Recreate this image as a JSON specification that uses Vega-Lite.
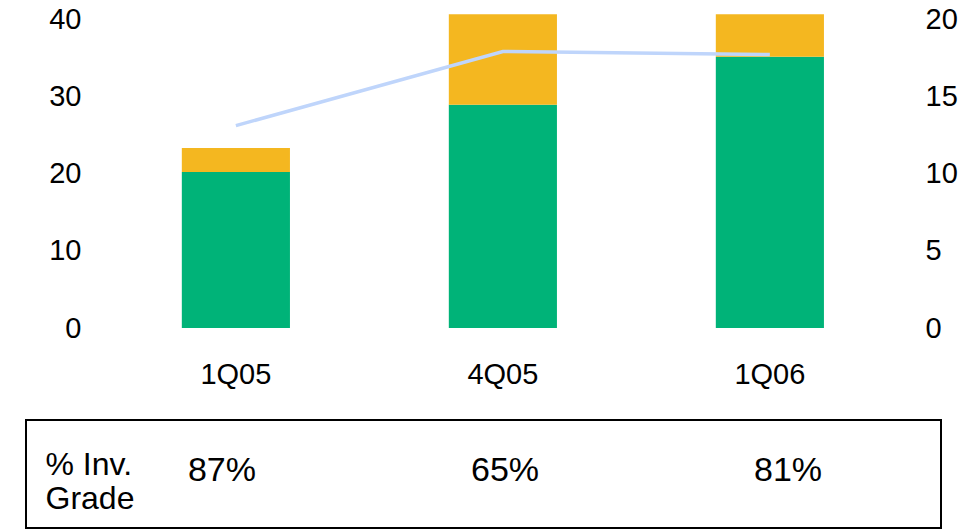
{
  "$schema": "https://vega.github.io/schema/vega-lite/v6.json",
  "padding": {"left": 25, "top": 5, "right": 0, "bottom": 0},
  "spacing": 30,
  "datasets": {
    "bars": [
      {"quarter": "1Q05", "category": "Investment grade", "value": 20.2},
      {"quarter": "1Q05", "category": "Non-investment grade", "value": 3.1},
      {"quarter": "4Q05", "category": "Investment grade", "value": 28.9},
      {"quarter": "4Q05", "category": "Non-investment grade", "value": 11.7},
      {"quarter": "1Q06", "category": "Investment grade", "value": 35.1},
      {"quarter": "1Q06", "category": "Non-investment grade", "value": 5.5}
    ],
    "line": [
      {"quarter": "1Q05", "value": 13.1},
      {"quarter": "4Q05", "value": 17.9},
      {"quarter": "1Q06", "value": 17.7}
    ],
    "table": [
      {"metric": "% Inv.\nGrade", "quarter": "1Q05", "pct": 0.87},
      {"metric": "% Inv.\nGrade", "quarter": "4Q05", "pct": 0.65},
      {"metric": "% Inv.\nGrade", "quarter": "1Q06", "pct": 0.81}
    ]
  },
  "config": {
    "view": {"stroke": null},
    "font": "Liberation Sans",
    "axis": {
      "domain": false,
      "ticks": false,
      "tickSize": 0,
      "grid": false,
      "labelColor": "#000000",
      "labelFont": "Liberation Sans",
      "labelFontSize": 29,
      "title": null
    }
  },
  "vconcat": [
    {
      "width": 915,
      "height": 309,
      "layer": [
        {
          "data": {"name": "bars"},
          "mark": {"type": "bar", "width": {"band": 0.405}},
          "encoding": {
            "x": {
              "field": "quarter",
              "type": "nominal",
              "sort": ["1Q05", "4Q05", "1Q06"],
              "scale": {"paddingInner": 0, "paddingOuter": 0.2135, "align": 0.67},
              "axis": {"labelAngle": 0, "labelPadding": 32}
            },
            "y": {
              "field": "value",
              "type": "quantitative",
              "aggregate": "sum",
              "stack": "zero",
              "scale": {"domain": [0, 40], "nice": false},
              "axis": {"values": [0, 10, 20, 30, 40], "orient": "left", "offset": -55, "labelPadding": 0}
            },
            "color": {
              "field": "category",
              "type": "nominal",
              "scale": {"domain": ["Investment grade", "Non-investment grade"], "range": ["#00B378", "#F4B720"]},
              "legend": null
            },
            "order": {"field": "category", "sort": "ascending"}
          }
        },
        {
          "data": {"name": "line"},
          "mark": {"type": "line", "color": "#BFD5FB", "strokeWidth": 3.5},
          "encoding": {
            "x": {"field": "quarter", "type": "nominal", "sort": ["1Q05", "4Q05", "1Q06"]},
            "y": {
              "field": "value",
              "type": "quantitative",
              "scale": {"domain": [0, 20], "nice": false},
              "axis": {"values": [0, 5, 10, 15, 20], "orient": "right", "offset": -16, "labelPadding": 0}
            }
          }
        }
      ],
      "resolve": {"scale": {"y": "independent"}}
    },
    {
      "width": 915,
      "height": 108,
      "view": {"stroke": "#000000", "strokeWidth": 2},
      "data": {"name": "table"},
      "mark": {"type": "text", "fontSize": 34, "font": "Liberation Sans", "color": "#000000", "baseline": "alphabetic", "align": "center", "dy": 7},
      "encoding": {
        "x": {
          "field": "quarter",
          "type": "nominal",
          "sort": ["1Q05", "4Q05", "1Q06"],
          "scale": {"type": "point", "padding": 0.6166, "align": 0.5616},
          "axis": null
        },
        "y": {
          "field": "metric",
          "type": "nominal",
          "axis": {
            "orient": "left",
            "offset": -19,
            "labelPadding": 0,
            "labelAlign": "left",
            "labelBaseline": "alphabetic",
            "labelFontSize": 32,
            "labelLineHeight": 34,
            "labelExpr": "split(datum.label, '\\n')"
          }
        },
        "text": {"field": "pct", "type": "quantitative", "format": ".0%"}
      }
    }
  ]
}
